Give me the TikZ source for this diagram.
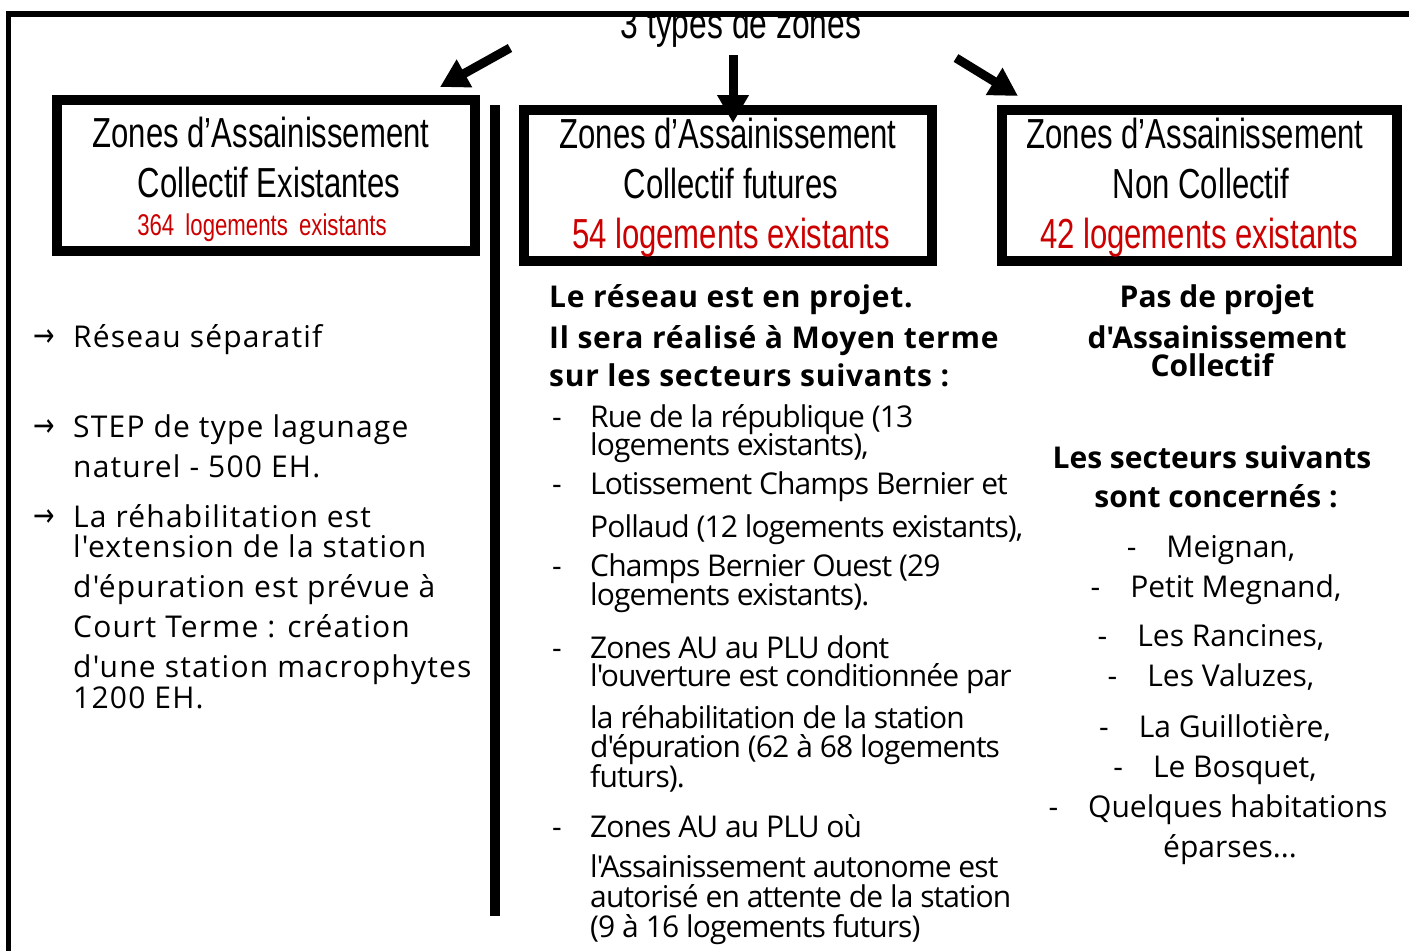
\documentclass[tikz,border=0pt]{standalone}
\usepackage{fontspec}
\usetikzlibrary{arrows.meta}
\newfontfamily\narrowfont[FakeStretch=0.74]{Liberation Sans}
\newfontfamily\bodyfont{Open Sans}
\newfontfamily\leftfont[LetterSpace=4]{Open Sans}
\newfontfamily\midfont[LetterSpace=-3]{Open Sans}
\newfontfamily\midboldfont[LetterSpace=2.5]{Open Sans Bold}
\newfontfamily\symfont[FakeStretch=0.8]{DejaVu Sans}
\definecolor{zonered}{RGB}{204,0,0}
\tikzset{
  zonebox/.style={draw=black, line width=10pt, fill=white, inner sep=0pt},
  boxline/.style={font=\narrowfont\fontsize{42}{42}\selectfont, anchor=base, inner sep=0pt},
  boxred/.style={boxline, text=zonered},
  bigarrow/.style={line width=9pt, -{Triangle[length=28pt,width=30pt]}},
  ltxt/.style={font=\leftfont\fontsize{30}{36}\selectfont, anchor=base west, inner sep=0pt},
  txt/.style={font=\midfont\fontsize{30}{36}\selectfont, anchor=base west, inner sep=0pt},
  txtb/.style={font=\midboldfont\fontsize{30}{36}\selectfont, anchor=base west, inner sep=0pt},
  ctxt/.style={font=\bodyfont\fontsize{30}{36}\selectfont, anchor=base, inner sep=0pt},
  ctxtb/.style={font=\bodyfont\bfseries\fontsize{30}{36}\selectfont, anchor=base, inner sep=0pt},
  arr/.style={font=\symfont\fontsize{32}{32}\selectfont, anchor=base west, inner sep=0pt},
  divider/.style={line width=10pt}
}
\begin{document}
\begin{tikzpicture}[x=1pt,y=-1pt]
\useasboundingbox (0,0) rectangle (1409,951);
\fill[white] (0,0) rectangle (1409,951);
% title, clipped by the frame line
\begin{scope}
\clip (0,14) rectangle (1409,60);
\node[font=\narrowfont\fontsize{43}{43}\selectfont, anchor=base, inner sep=0pt] (title) at (741,38) {3 types de zones};
\end{scope}
% frame
\draw[line width=6pt] (8,14) -- (1409,14);
\draw[line width=5pt] (8.5,11) -- (8.5,951);
% boxes
\node[zonebox, minimum width=418pt, minimum height=151pt] (b1) at (266,175.5) {};
\node[zonebox, minimum width=408pt, minimum height=151pt] (b2) at (728,185.5) {};
\node[zonebox, minimum width=395pt, minimum height=151pt] (b3) at (1199.5,185.5) {};
% arrows
\coordinate (a1s) at (510,48);
\coordinate (a1e) at (440,87);
\coordinate (a2s) at (733,55);
\coordinate (a2e) at (733,123);
\coordinate (a3s) at (956,58);
\coordinate (a3e) at (1018,96);
\draw[bigarrow] (a1s) -- (a1e);
\draw[bigarrow] (a2s) -- (a2e);
\draw[bigarrow] (a3s) -- (a3e);
% box texts
\node[boxline] (b1l1) at (261,147) {Zones d’Assainissement};
\node[boxline] (b1l2) at (269,197) {Collectif Existantes};
\node[boxred, font=\narrowfont\fontsize{30}{30}\selectfont] (b1l3) at (262,235) {364\, logements\, existants};
\node[boxline] (b2l1) at (728,148) {Zones d’Assainissement};
\node[boxline] (b2l2) at (731,198) {Collectif futures};
\node[boxred] (b2l3) at (731,248) {54 logements existants};
\node[boxline] (b3l1) at (1195,148) {Zones d’Assainissement};
\node[boxline] (b3l2) at (1201,198) {Non Collectif};
\node[boxred] (b3l3) at (1199,248) {42 logements existants};
% divider
\draw[divider] (495,105) -- (495,916);
% left column
\node[arr] (la1) at (33,346) {→};
\node[ltxt] (l1) at (73,347) {Réseau séparatif};
\node[arr] (la2) at (33,436) {→};
\node[ltxt] (l2) at (73,437) {STEP de type lagunage};
\node[ltxt] (l3) at (73,477) {naturel - 500 EH.};
\node[arr] (la3) at (33,526) {→};
\node[ltxt] (l4) at (73,527) {La réhabilitation est};
\node[ltxt] (l5) at (73,557) {l'extension de la station};
\node[ltxt] (l6) at (73,597) {d'épuration est prévue à};
\node[ltxt] (l7) at (73,637) {Court Terme : création};
\node[ltxt] (l8) at (73,677) {d'une station macrophytes};
\node[ltxt] (l9) at (73,708) {1200 EH.};
% middle column
\node[txtb] (m1) at (549,307) {Le réseau est en projet.};
\node[txtb] (m2) at (549,348) {Il sera réalisé à Moyen terme};
\node[txtb] (m3) at (549,386) {sur les secteurs suivants :};
\node[txt] (md1) at (552,427) {-};
\node[txt] (m4) at (590,427) {Rue de la république (13};
\node[txt] (m5) at (590,455) {logements existants),};
\node[txt] (md2) at (552,494) {-};
\node[txt] (m6) at (590,494) {Lotissement Champs Bernier et};
\node[txt] (m7) at (590,537) {Pollaud (12 logements existants),};
\node[txt] (md3) at (552,576) {-};
\node[txt] (m8) at (590,576) {Champs Bernier Ouest (29};
\node[txt] (m9) at (590,605) {logements existants).};
\node[txt] (md4) at (552,658) {-};
\node[txt] (m10) at (590,658) {Zones AU au PLU dont};
\node[txt] (m11) at (590,686) {l'ouverture est conditionnée par};
\node[txt] (m12) at (590,728) {la réhabilitation de la station};
\node[txt] (m13) at (590,757) {d'épuration (62 à 68 logements};
\node[txt] (m14) at (590,787) {futurs).};
\node[txt] (md5) at (552,837) {-};
\node[txt] (m15) at (590,837) {Zones AU au PLU où};
\node[txt] (m16) at (590,877) {l'Assainissement autonome est};
\node[txt] (m17) at (590,907) {autorisé en attente de la station};
\node[txt] (m18) at (590,937) {(9 à 16 logements futurs)};
% right column
\node[ctxtb] (r1) at (1217,307) {Pas de projet};
\node[ctxtb] (r2) at (1217,348) {d'Assainissement};
\node[ctxtb] (r3) at (1212,376) {Collectif};
\node[ctxtb] (r4) at (1212,468) {Les secteurs suivants};
\node[ctxtb] (r5) at (1216,507) {sont concernés :};
\node[ctxt] (r6) at (1211,557) {-\quad Meignan,};
\node[ctxt] (r7) at (1216,597) {-\quad Petit Megnand,};
\node[ctxt] (r8) at (1211,646) {-\quad Les Rancines,};
\node[ctxt] (r9) at (1211,686) {-\quad Les Valuzes,};
\node[ctxt] (r10) at (1215,737) {-\quad La Guillotière,};
\node[ctxt] (r11) at (1215,777) {-\quad Le Bosquet,};
\node[ctxt] (r12) at (1218,817) {-\quad Quelques habitations};
\node[ctxt] (r13) at (1230,857) {éparses...};
\end{tikzpicture}
\end{document}
